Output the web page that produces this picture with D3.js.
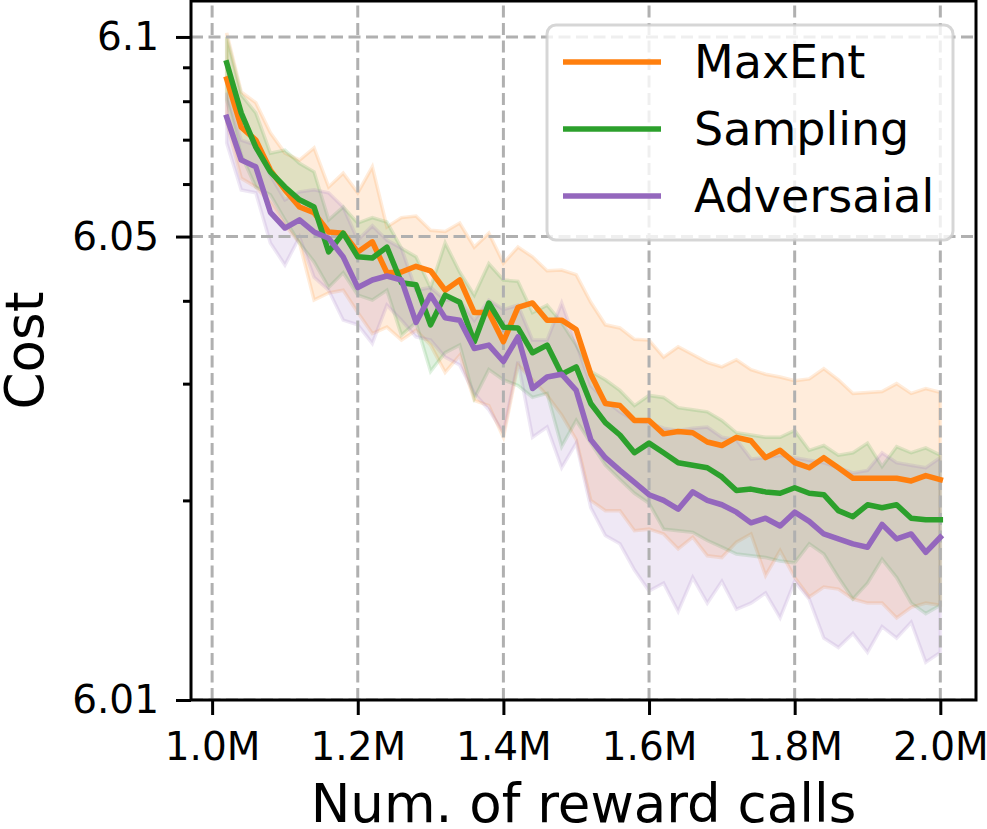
<!DOCTYPE html>
<html>
<head>
<meta charset="utf-8">
<script src="https://cdnjs.cloudflare.com/ajax/libs/d3/7.8.5/d3.min.js"></script>
<style>
  body { margin: 0; background: #fff; }
  svg text { font-family: "DejaVu Sans", sans-serif; fill: #000; }
</style>
</head>
<body>
<div id="chart"></div>
<script>
// reward calls, in millions
const callsM = [1.02, 1.04, 1.06, 1.08, 1.10, 1.12, 1.14, 1.16, 1.18, 1.20,
                1.22, 1.24, 1.26, 1.28, 1.30, 1.32, 1.34, 1.36, 1.38, 1.40,
                1.42, 1.44, 1.46, 1.48, 1.50, 1.52, 1.54, 1.56, 1.58, 1.60,
                1.62, 1.64, 1.66, 1.68, 1.70, 1.72, 1.74, 1.76, 1.78, 1.80,
                1.82, 1.84, 1.86, 1.88, 1.90, 1.92, 1.94, 1.96, 1.98, 2.00];

const maxEntMean = [6.0864, 6.0731, 6.0699, 6.0630, 6.0588, 6.0554, 6.0543, 6.0508, 6.0506, 6.0474,
                    6.0491, 6.0441, 6.0442, 6.0451, 6.0444, 6.0415, 6.0430, 6.0384, 6.0384, 6.0347,
                    6.0391, 6.0397, 6.0374, 6.0374, 6.0362, 6.0310, 6.0280, 6.0278, 6.0264, 6.0264,
                    6.0252, 6.0254, 6.0253, 6.0245, 6.0242, 6.0249, 6.0246, 6.0232, 6.0238, 6.0228,
                    6.0224, 6.0232, 6.0224, 6.0216, 6.0216, 6.0216, 6.0216, 6.0214, 6.0218, 6.0215];
const maxEntUpper = [6.1014, 6.0826, 6.0796, 6.0717, 6.0668, 6.0652, 6.0680, 6.0594, 6.0623, 6.0582,
                     6.0637, 6.0517, 6.0534, 6.0537, 6.0511, 6.0509, 6.0524, 6.0482, 6.0506, 6.0456,
                     6.0482, 6.0466, 6.0444, 6.0445, 6.0438, 6.0398, 6.0368, 6.0364, 6.0350, 6.0349,
                     6.0329, 6.0341, 6.0332, 6.0323, 6.0318, 6.0326, 6.0315, 6.0310, 6.0307, 6.0303,
                     6.0305, 6.0316, 6.0304, 6.0290, 6.0291, 6.0292, 6.0300, 6.0290, 6.0295, 6.0291];
const maxEntLower = [6.0742, 6.0612, 6.0594, 6.0562, 6.0520, 6.0489, 6.0401, 6.0411, 6.0415, 6.0384,
                     6.0357, 6.0365, 6.0349, 6.0361, 6.0343, 6.0312, 6.0331, 6.0283, 6.0278, 6.0249,
                     6.0320, 6.0304, 6.0288, 6.0269, 6.0247, 6.0200, 6.0193, 6.0193, 6.0180, 6.0181,
                     6.0178, 6.0169, 6.0176, 6.0165, 6.0164, 6.0173, 6.0178, 6.0154, 6.0168, 6.0153,
                     6.0143, 6.0148, 6.0147, 6.0142, 6.0140, 6.0140, 6.0133, 6.0138, 6.0140, 6.0139];

const samplingMean = [6.0914, 6.0768, 6.0682, 6.0626, 6.0594, 6.0568, 6.0554, 6.0474, 6.0506, 6.0466,
                      6.0464, 6.0482, 6.0426, 6.0423, 6.0368, 6.0408, 6.0398, 6.0347, 6.0397, 6.0365,
                      6.0364, 6.0334, 6.0343, 6.0310, 6.0318, 6.0280, 6.0262, 6.0251, 6.0236, 6.0244,
                      6.0236, 6.0228, 6.0226, 6.0224, 6.0217, 6.0207, 6.0208, 6.0206, 6.0205, 6.0209,
                      6.0205, 6.0204, 6.0193, 6.0189, 6.0197, 6.0195, 6.0197, 6.0188, 6.0187, 6.0187];
const samplingUpper = [6.1000, 6.0818, 6.0768, 6.0668, 6.0675, 6.0645, 6.0626, 6.0530, 6.0554, 6.0524,
                       6.0534, 6.0526, 6.0480, 6.0466, 6.0419, 6.0489, 6.0442, 6.0408, 6.0455, 6.0430,
                       6.0428, 6.0384, 6.0394, 6.0371, 6.0343, 6.0313, 6.0304, 6.0293, 6.0278, 6.0288,
                       6.0286, 6.0276, 6.0274, 6.0272, 6.0264, 6.0253, 6.0251, 6.0249, 6.0249, 6.0255,
                       6.0238, 6.0242, 6.0234, 6.0236, 6.0244, 6.0225, 6.0241, 6.0236, 6.0240, 6.0234];
const samplingLower = [6.0804, 6.0664, 6.0594, 6.0578, 6.0530, 6.0489, 6.0458, 6.0419, 6.0441, 6.0408,
                       6.0401, 6.0415, 6.0355, 6.0371, 6.0313, 6.0334, 6.0343, 6.0285, 6.0315, 6.0304,
                       6.0298, 6.0286, 6.0290, 6.0241, 6.0264, 6.0244, 6.0226, 6.0215, 6.0205, 6.0198,
                       6.0181, 6.0180, 6.0179, 6.0174, 6.0170, 6.0166, 6.0165, 6.0164, 6.0162, 6.0161,
                       6.0172, 6.0166, 6.0153, 6.0142, 6.0150, 6.0163, 6.0153, 6.0140, 6.0135, 6.0139];

const advMean = [6.0757, 6.0652, 6.0637, 6.0544, 6.0515, 6.0530, 6.0508, 6.0497, 6.0466, 6.0419,
                 6.0430, 6.0436, 6.0430, 6.0371, 6.0408, 6.0377, 6.0374, 6.0339, 6.0343, 6.0324,
                 6.0353, 6.0295, 6.0307, 6.0310, 6.0293, 6.0247, 6.0232, 6.0222, 6.0213, 6.0204,
                 6.0200, 6.0194, 6.0206, 6.0200, 6.0197, 6.0192, 6.0185, 6.0188, 6.0183, 6.0192,
                 6.0186, 6.0178, 6.0175, 6.0172, 6.0170, 6.0184, 6.0175, 6.0178, 6.0167, 6.0176];
const advUpper = [6.0824, 6.0699, 6.0687, 6.0619, 6.0568, 6.0584, 6.0588, 6.0582, 6.0554, 6.0494,
                  6.0519, 6.0494, 6.0480, 6.0415, 6.0419, 6.0401, 6.0401, 6.0374, 6.0401, 6.0388,
                  6.0394, 6.0349, 6.0349, 6.0397, 6.0345, 6.0298, 6.0283, 6.0272, 6.0264, 6.0262,
                  6.0257, 6.0255, 6.0257, 6.0258, 6.0249, 6.0247, 6.0231, 6.0232, 6.0234, 6.0232,
                  6.0230, 6.0228, 6.0224, 6.0220, 6.0222, 6.0236, 6.0228, 6.0226, 6.0224, 6.0232];
const advLower = [6.0692, 6.0588, 6.0582, 6.0489, 6.0453, 6.0499, 6.0434, 6.0415, 6.0374, 6.0368,
                  6.0345, 6.0394, 6.0374, 6.0353, 6.0349, 6.0329, 6.0320, 6.0290, 6.0274, 6.0253,
                  6.0324, 6.0249, 6.0258, 6.0224, 6.0244, 6.0195, 6.0177, 6.0172, 6.0157, 6.0146,
                  6.0150, 6.0136, 6.0153, 6.0140, 6.0151, 6.0137, 6.0140, 6.0145, 6.0133, 6.0151,
                  6.0142, 6.0124, 6.0120, 6.0126, 6.0118, 6.0129, 6.0124, 6.0131, 6.0114, 6.0118];

const seriesNames = ["MaxEnt", "Sampling", "Adversaial"];
const seriesColors = ["#ff7f0e", "#2ca02c", "#9467bd"];

const xTicks = [1.0, 1.2, 1.4, 1.6, 1.8, 2.0];
const yMajor = [6.01, 6.05, 6.1];
const yMajorLabels = ["6.01", "6.05", "6.1"];
const yMinor = [6.02, 6.03, 6.04, 6.06, 6.07, 6.08, 6.09];

// cost axis is a log scale of (cost - 6)
const yBase = 6.0;

const width = 987, height = 829;
const plot = { left: 191, right: 976, top: 1, bottom: 700 };

const svg = d3.select("#chart").append("svg")
    .attr("width", width)
    .attr("height", height);

const x = d3.scaleLinear().domain([0.971, 2.049]).range([plot.left, plot.right]);
const yLog = d3.scaleLog().domain([6.01 - yBase, 6.1133 - yBase]).range([plot.bottom, plot.top]);
const y = v => yLog(v - yBase);

svg.append("clipPath").attr("id", "plotClip")
  .append("rect")
    .attr("x", plot.left).attr("y", plot.top)
    .attr("width", plot.right - plot.left)
    .attr("height", plot.bottom - plot.top);

const series = [
    { mean: maxEntMean, upper: maxEntUpper, lower: maxEntLower },
    { mean: samplingMean, upper: samplingUpper, lower: samplingLower },
    { mean: advMean, upper: advUpper, lower: advLower }
].map((s, i) => ({
    name: seriesNames[i],
    color: seriesColors[i],
    points: callsM.map((c, j) => ({ x: c, m: s.mean[j], lo: s.lower[j], hi: s.upper[j] }))
}));

const inner = svg.append("g").attr("clip-path", "url(#plotClip)");

// ===== bands =====
const band = d3.area()
    .x(d => x(d.x))
    .y0(d => y(d.lo))
    .y1(d => y(d.hi));

inner.selectAll(".band")
    .data(series)
    .enter().append("path")
    .attr("class", "band")
    .attr("d", d => band(d.points))
    .attr("fill", d => d.color)
    .attr("fill-opacity", 0.15)
    .attr("stroke", d => d.color)
    .attr("stroke-opacity", 0.15)
    .attr("stroke-width", 3.5);

// ===== grid =====
const gridStyle = sel => sel
    .attr("stroke", "#b0b0b0")
    .attr("stroke-width", 3)
    .attr("stroke-dasharray", "12,5.5");

inner.selectAll(".vgrid")
    .data(xTicks)
    .enter().append("line")
    .attr("x1", d => x(d)).attr("x2", d => x(d))
    .attr("y1", plot.bottom).attr("y2", plot.top)
    .call(gridStyle);

inner.selectAll(".hgrid")
    .data(yMajor)
    .enter().append("line")
    .attr("x1", plot.left).attr("x2", plot.right)
    .attr("y1", d => y(d)).attr("y2", d => y(d))
    .call(gridStyle);

// ===== mean lines =====
const meanLine = d3.line()
    .x(d => x(d.x))
    .y(d => y(d.m));

inner.selectAll(".mean")
    .data(series)
    .enter().append("path")
    .attr("class", "mean")
    .attr("d", d => meanLine(d.points))
    .attr("fill", "none")
    .attr("stroke", d => d.color)
    .attr("stroke-width", 5.5)
    .attr("stroke-linejoin", "round")
    .attr("stroke-linecap", "square");

// ===== axes =====
const xAxis = svg.append("g")
    .attr("transform", `translate(0,${plot.bottom})`)
    .call(d3.axisBottom(x)
        .tickValues(xTicks)
        .tickSize(15)
        .tickPadding(17)
        .tickFormat(d => d.toFixed(1) + "M"));

const yAxis = svg.append("g")
    .attr("transform", `translate(${plot.left},0)`)
    .call(d3.axisLeft(yLog)
        .tickValues(yMajor.map(v => v - yBase))
        .tickSize(15)
        .tickPadding(17)
        .tickFormat((d, i) => yMajorLabels[i]));

const yMinorAxis = svg.append("g")
    .attr("transform", `translate(${plot.left},0)`)
    .call(d3.axisLeft(yLog)
        .tickValues(yMinor.map(v => v - yBase))
        .tickSize(8)
        .tickFormat(""));

[xAxis, yAxis, yMinorAxis].forEach(a => {
    a.select(".domain").remove();
    a.selectAll(".tick line").attr("stroke", "#000").attr("stroke-width", 3);
    a.selectAll(".tick text")
        .style("font-family", "'DejaVu Sans', sans-serif")
        .style("font-size", "39px")
        .attr("fill", "#000");
});

// spines
svg.append("rect")
    .attr("x", plot.left).attr("y", plot.top)
    .attr("width", plot.right - plot.left)
    .attr("height", plot.bottom - plot.top)
    .attr("fill", "none")
    .attr("stroke", "#000")
    .attr("stroke-width", 3);

// axis labels
svg.append("text")
    .attr("x", (plot.left + plot.right) / 2)
    .attr("y", 822)
    .attr("text-anchor", "middle")
    .style("font-size", "53px")
    .text("Num. of reward calls");

svg.append("text")
    .attr("transform", `translate(43,${(plot.top + plot.bottom) / 2}) rotate(-90)`)
    .attr("text-anchor", "middle")
    .style("font-size", "53px")
    .text("Cost");

// ===== legend =====
const legend = svg.append("g");
legend.append("rect")
    .attr("x", 547).attr("y", 25)
    .attr("width", 406).attr("height", 215)
    .attr("rx", 9)
    .attr("fill", "#fff")
    .attr("fill-opacity", 0.8)
    .attr("stroke", "#cccccc")
    .attr("stroke-opacity", 0.8)
    .attr("stroke-width", 3);

const items = legend.selectAll(".item")
    .data(series)
    .enter().append("g")
    .attr("transform", (d, i) => `translate(0,${62 + i * 67})`);

items.append("line")
    .attr("x1", 563).attr("x2", 661)
    .attr("stroke", d => d.color)
    .attr("stroke-width", 5.5);

items.append("text")
    .attr("x", 694)
    .attr("y", 16)
    .style("font-size", "46px")
    .text(d => d.name);
</script>
</body>
</html>
